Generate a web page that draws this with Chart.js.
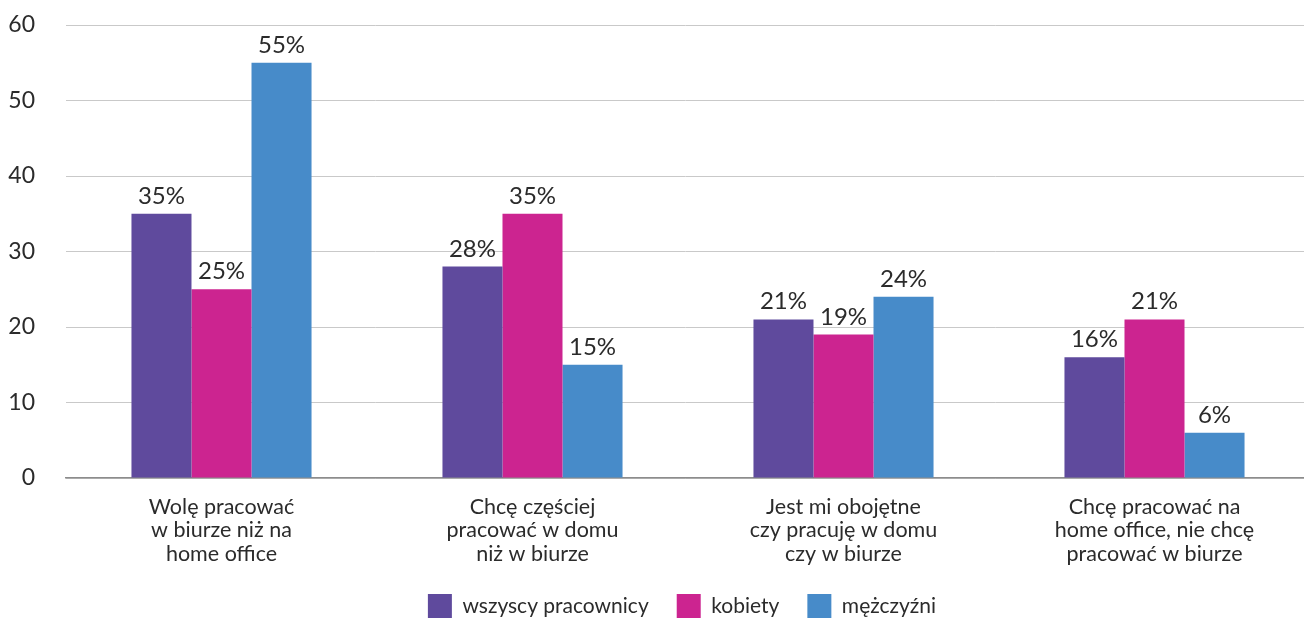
<!DOCTYPE html>
<html>
<head>
<meta charset="utf-8">
<script src="https://cdn.jsdelivr.net/npm/chart.js@4/dist/chart.umd.min.js"></script>
<style>
  html, body { margin: 0; padding: 0; background: #fff; }
  #wrap { width: 1304px; height: 619px; position: relative; }
</style>
</head>
<body>
<div id="wrap"><canvas id="chart"></canvas></div>
<script>
const categories = [
  ['Wolę pracować', 'w biurze niż na', 'home office'],
  ['Chcę częściej', 'pracować w domu', 'niż w biurze'],
  ['Jest mi obojętne', 'czy pracuję w domu', 'czy w biurze'],
  ['Chcę pracować na', 'home office, nie chcę', 'pracować w biurze']
];
const allWorkers = [35, 28, 21, 16];
const women = [25, 35, 19, 21];
const men = [55, 15, 24, 6];
const yTicks = [0, 10, 20, 30, 40, 50, 60];

const FONT = 'Lato, "Open Sans", sans-serif';
const TEXT = '#2b2b2b';

// value labels above bars
const valueLabels = {
  id: 'valueLabels',
  afterDatasetsDraw(chart) {
    const ctx = chart.ctx;
    ctx.save();
    ctx.font = '24px ' + FONT;
    ctx.fillStyle = TEXT;
    ctx.textAlign = 'center';
    ctx.textBaseline = 'alphabetic';
    chart.data.datasets.forEach((ds, i) => {
      chart.getDatasetMeta(i).data.forEach((bar, j) => {
        ctx.fillText(ds.data[j] + '%', bar.x, bar.y - 10);
      });
    });
    ctx.restore();
  }
};

// plot area runs a bit past the right edge, legend centred under it,
// and room for the last label line
const layoutTweaks = {
  id: 'layoutTweaks',
  afterLayout(chart) {
    const extra = 6;
    const x = chart.scales.x;
    x.right += extra;
    x.width += extra;
    x.configure();
    chart.chartArea.right += extra;
    chart.chartArea.width += extra;
    x.bottom = x.top + 100;

    const shift = 28;
    chart.legend.left += shift;
    chart.legend.right += shift;
  }
};

new Chart(document.getElementById('chart'), {
  type: 'bar',
  data: {
    labels: categories,
    datasets: [
      { label: 'wszyscy pracownicy', data: allWorkers, backgroundColor: '#5F4A9D' },
      { label: 'kobiety', data: women, backgroundColor: '#CC2490' },
      { label: 'mężczyźni', data: men, backgroundColor: '#478BC9' }
    ]
  },
  options: {
    responsive: true,
    maintainAspectRatio: false,
    animation: false,
    layout: { padding: { top: 25, left: 4, right: 0, bottom: -9 } },
    datasets: { bar: { barPercentage: 1, categoryPercentage: 0.579 } },
    plugins: {
      legend: {
        position: 'bottom',
        labels: {
          font: { size: 21, family: FONT },
          color: TEXT,
          boxWidth: 24,
          boxHeight: 24,
          padding: 28
        }
      },
      tooltip: { enabled: false }
    },
    scales: {
      y: {
        min: 0,
        max: 60,
        afterBuildTicks(axis) { axis.ticks = yTicks.map(v => ({ value: v })); },
        afterFit(axis) { axis.width = 62; axis.paddingTop = 0; axis.paddingBottom = 0; },
        grid: { color: '#c9c9c9', lineWidth: 1, drawTicks: false },
        border: { display: false },
        ticks: { font: { size: 23, family: FONT }, color: TEXT, padding: 31 }
      },
      x: {
        afterFit(axis) { axis.height = 88; axis.paddingLeft = 0; axis.paddingRight = 0; },
        grid: { display: false },
        border: { display: true, color: '#8c8c8c', width: 1.5 },
        ticks: { font: { size: 21.5, family: FONT, lineHeight: 1.09 }, color: TEXT, padding: 9, maxRotation: 0, autoSkip: false }
      }
    }
  },
  plugins: [valueLabels, layoutTweaks]
});
</script>
</body>
</html>
